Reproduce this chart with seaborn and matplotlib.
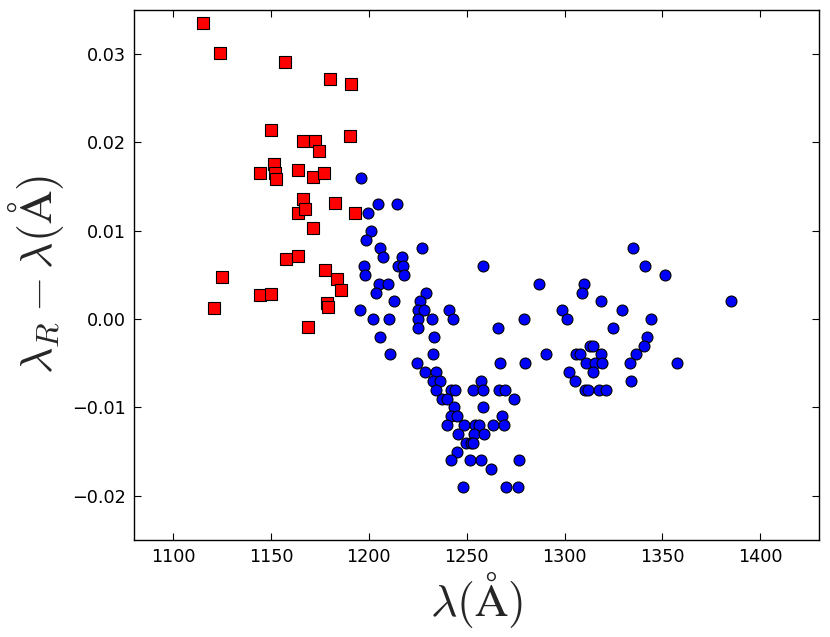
import matplotlib
matplotlib.use("Agg")
import matplotlib.pyplot as plt
import seaborn as sns
import pandas as pd

red_x = [1115.3, 1124.2, 1157.3, 1180.1, 1191.0, 1150.1, 1166.5, 1172.6, 1190.3, 1174.3,
         1151.8, 1144.5, 1152.1, 1152.7, 1163.6, 1171.6, 1177.2, 1166.2, 1163.8, 1167.2,
         1182.7, 1192.9, 1171.4, 1157.5, 1163.9, 1124.9, 1177.6, 1183.8, 1185.9, 1144.3,
         1149.9, 1121.0, 1178.4, 1178.9, 1168.7]
red_y = [0.0335, 0.0301, 0.0291, 0.0272, 0.0266, 0.0214, 0.0202, 0.0202, 0.0207, 0.0190,
         0.0176, 0.0165, 0.0165, 0.0159, 0.0169, 0.0161, 0.0165, 0.0136, 0.0120, 0.0125,
         0.0131, 0.0120, 0.0103, 0.0068, 0.0072, 0.0048, 0.0056, 0.0045, 0.0033, 0.0027,
         0.0028, 0.0013, 0.0018, 0.0014, -0.0009]

blue_x = [1196.0, 1204.8, 1214.2, 1199.5, 1201.1, 1198.5, 1205.5, 1207.4, 1217.1, 1227.3,
          1214.9, 1217.6, 1218.1, 1197.3, 1198.0, 1258.2, 1205.4, 1209.9, 1203.8, 1287.2,
          1212.8, 1229.3, 1226.3, 1195.3, 1224.9, 1228.3, 1241.1, 1202.2, 1210.4, 1224.9,
          1232.1, 1242.8, 1279.4, 1225.1, 1266.0, 1205.8, 1233.3, 1210.8, 1232.6, 1224.6,
          1267.2, 1279.8, 1228.5, 1234.5, 1232.6, 1236.2, 1257.2, 1234.5, 1242.0, 1243.9,
          1253.4, 1258.2, 1266.6, 1269.6, 1237.2, 1240.1, 1274.3, 1243.5, 1258.5, 1241.8,
          1245.2, 1268.3, 1239.9, 1248.8, 1254.2, 1256.1, 1263.4, 1268.9, 1245.6, 1253.9,
          1258.7, 1249.5, 1252.2, 1253.4, 1245.0, 1242.2, 1251.9, 1257.2, 1276.6, 1262.6,
          1248.1, 1270.2, 1276.1,
          1335.2, 1341.2, 1351.4, 1310.1, 1308.8, 1385.0, 1318.5, 1298.9, 1329.5, 1301.3,
          1344.0, 1324.6, 1342.3, 1340.5, 1313.2, 1314.4, 1305.9, 1308.0, 1318.4, 1336.5,
          1290.4, 1311.2, 1315.8, 1319.3, 1333.5, 1357.7, 1302.5, 1314.8, 1305.2, 1334.2,
          1310.6, 1311.9, 1317.5, 1321.1]
blue_y = [0.016, 0.013, 0.013, 0.012, 0.010, 0.009, 0.008, 0.007, 0.007, 0.008,
          0.006, 0.006, 0.005, 0.006, 0.005, 0.006, 0.004, 0.004, 0.003, 0.004,
          0.002, 0.003, 0.002, 0.001, 0.001, 0.001, 0.001, 0.000, 0.000, 0.000,
          0.000, 0.000, 0.000, -0.001, -0.001, -0.002, -0.002, -0.004, -0.004, -0.005,
          -0.005, -0.005, -0.006, -0.006, -0.007, -0.007, -0.007, -0.008, -0.008, -0.008,
          -0.008, -0.008, -0.008, -0.008, -0.009, -0.009, -0.009, -0.010, -0.010, -0.011,
          -0.011, -0.011, -0.012, -0.012, -0.012, -0.012, -0.012, -0.012, -0.013, -0.013,
          -0.013, -0.014, -0.014, -0.014, -0.015, -0.016, -0.016, -0.016, -0.016, -0.017,
          -0.019, -0.019, -0.019,
          0.008, 0.006, 0.005, 0.004, 0.003, 0.002, 0.002, 0.001, 0.001, 0.000,
          0.000, -0.001, -0.002, -0.003, -0.003, -0.003, -0.004, -0.004, -0.004, -0.004,
          -0.004, -0.005, -0.005, -0.005, -0.005, -0.005, -0.006, -0.006, -0.007, -0.007,
          -0.008, -0.008, -0.008, -0.008]

x_ticks = [1100, 1150, 1200, 1250, 1300, 1350, 1400]
y_ticks = [-0.02, -0.01, 0.00, 0.01, 0.02, 0.03]
y_tick_labels = ["\u22120.02", "\u22120.01", "0.00", "0.01", "0.02", "0.03"]

sns.set_style("white")
plt.rcParams['font.family'] = ['DejaVu Sans']
plt.rcParams['mathtext.fontset'] = 'cm'

red_df = pd.DataFrame({"x": red_x, "y": red_y})
blue_df = pd.DataFrame({"x": blue_x, "y": blue_y})

fig = plt.figure(figsize=(8.30, 6.37), dpi=100)
ax = fig.add_axes([0.1614, 0.1523, 0.8253, 0.832])

sns.scatterplot(data=red_df, x="x", y="y", ax=ax, marker="s", color="#ff0000",
                s=64, edgecolor="black", linewidth=0.8, zorder=3)
sns.scatterplot(data=blue_df, x="x", y="y", ax=ax, marker="o", color="#0000ff",
                s=62, edgecolor="black", linewidth=0.8, zorder=4)

ax.set_xlim(1080, 1430)
ax.set_ylim(-0.025, 0.035)
ax.set_xticks(x_ticks)
ax.set_yticks(y_ticks)
ax.set_xticklabels([str(t) for t in x_ticks])
ax.set_yticklabels(y_tick_labels)

for sp in ax.spines.values():
    sp.set_visible(True)
    sp.set_color("black")
    sp.set_linewidth(1.0)

ax.tick_params(axis="both", which="major", direction="in", length=5, width=0.8,
               top=True, right=True, bottom=True, left=True, labelsize=12.7,
               colors="black", pad=6)

ax.set_xlabel(r"$\lambda(\mathrm{\AA})$", fontsize=33, labelpad=2)
ax.set_ylabel(r"$\lambda_R - \lambda(\mathrm{\AA})$", fontsize=33, labelpad=4)

fig.savefig("out.png", dpi=100)
